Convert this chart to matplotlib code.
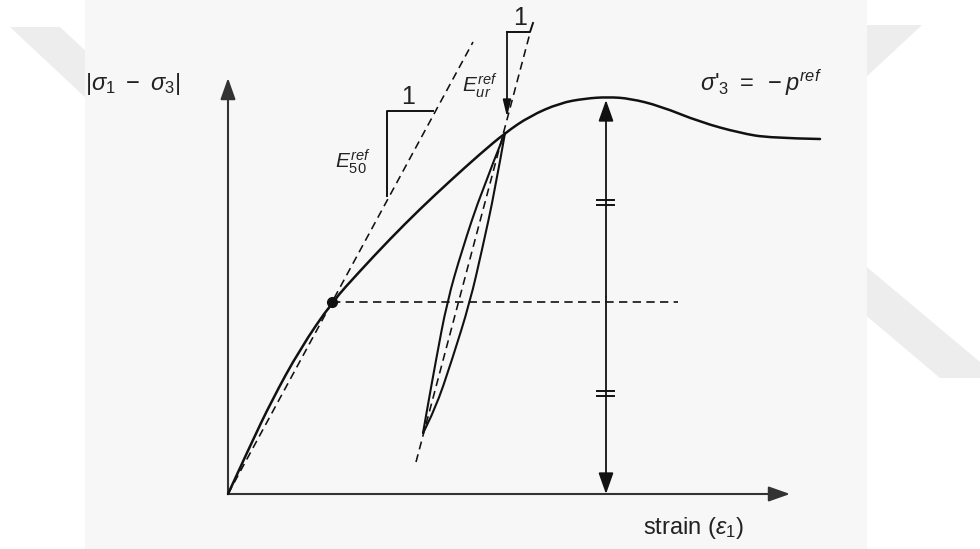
import numpy as np
import matplotlib.pyplot as plt
from matplotlib.patches import Polygon, Rectangle, PathPatch
from matplotlib.path import Path

plt.rcParams['font.family'] = ['Liberation Sans', 'DejaVu Sans']
plt.rcParams['mathtext.fontset'] = 'custom'
plt.rcParams['mathtext.rm'] = 'Liberation Sans'
plt.rcParams['mathtext.it'] = 'Liberation Sans:italic'
plt.rcParams['mathtext.bf'] = 'Liberation Sans:bold'

# primary loading curve (strain, deviatoric stress), schematic units
strain = [0, 22, 44, 72, 104, 132, 162, 192, 222, 252, 277, 302, 332, 357, 380,
          402, 432, 472, 512, 542, 592]
stress = [0, 48, 94, 145, 192, 223, 255, 285, 313, 340, 361, 378, 391, 395.5, 397,
          395.5, 388, 372, 361, 356, 355]

# unloading / reloading loop
unload_strain = [277, 254, 234, 219, 208, 199, 195]
unload_stress = [361, 304, 244, 192, 134, 84, 61]
reload_strain = [195, 207, 224, 242, 254, 267, 277]
reload_stress = [61, 84, 134, 192, 244, 304, 361]

# secant (E50) and unload-reload (Eur) stiffness lines
e50_strain = [0, 245]
e50_stress = [0, 452]
eur_strain = [188, 302]
eur_stress = [32, 461]

# point at 50% of the peak
half_strain = 104
half_stress = 192
half_end = 450

peak_strain = 378
peak_stress = 394

ink = '#111111'
axis_col = '#333333'
txt = '#222222'

fig = plt.figure(figsize=(9.8, 5.49), dpi=100)
ax = fig.add_axes([0, 0, 1, 1])
ax.set_xlim(-228, 752)
ax.set_ylim(-55, 494)
ax.axis('off')

# faint background shapes and the grey panel
wm = '#ededed'
ax.add_patch(Polygon([(-218, 467), (-168, 467), (-108, 411), (-108, 364)], color=wm, lw=0, zorder=0))
ax.add_patch(Polygon([(622, 469), (694, 469), (622, 402)], color=wm, lw=0, zorder=0))
ax.add_patch(Polygon([(622, 241), (752, 132), (752, 116), (712, 116), (622, 192)], color=wm, lw=0, zorder=0))
ax.add_patch(Rectangle((-143, -60), 782, 560, color='#f7f7f7', lw=0, zorder=1))


def smooth_line(xs, ys, lw):
    # quadratic spline through the midpoints of the given points
    pts = np.column_stack([xs, ys]).astype(float)
    verts = [pts[0]]
    codes = [Path.MOVETO]
    n = len(pts)
    for i in range(1, n - 1):
        end = pts[i + 1] if i == n - 2 else (pts[i] + pts[i + 1]) / 2
        verts += [pts[i], end]
        codes += [Path.CURVE3, Path.CURVE3]
    ax.add_patch(PathPatch(Path(verts, codes), fill=False, edgecolor=ink, lw=lw,
                           capstyle='round', joinstyle='round', zorder=4))


def arrow(tip, tail, col=axis_col, lw=1.5, hl=0.65, hw=0.23):
    ax.annotate('', xy=tip, xytext=tail,
                arrowprops=dict(arrowstyle='-|>,head_length=%g,head_width=%g' % (hl, hw),
                                mutation_scale=20, color=col, lw=lw,
                                shrinkA=0, shrinkB=0), zorder=4)


# axes
arrow((0, 416), (0, 0))
arrow((562, 0), (0, 0))

dash = (0, (5, 3.2))
ax.plot(e50_strain, e50_stress, color=ink, lw=1.15, ls=dash, zorder=3)
ax.plot(eur_strain, eur_stress, color=ink, lw=1.15, ls=dash, zorder=3)
ax.plot([half_strain, half_end], [half_stress, half_stress], color=ink, lw=1.2, ls=dash, zorder=3)

smooth_line(strain, stress, 1.8)
smooth_line(unload_strain, unload_stress, 1.5)
smooth_line(reload_strain, reload_stress, 1.5)
ax.plot(half_strain, half_stress, 'o', color=ink, ms=7, zorder=5)

# peak strength double arrow with equal-length marks
arrow((peak_strain, peak_stress), (peak_strain, peak_stress / 2), col=ink, lw=1.3)
arrow((peak_strain, 0), (peak_strain, peak_stress / 2), col=ink, lw=1.3)
for y in (peak_stress * 0.74, peak_stress * 0.255):
    ax.plot([369, 386], [y + 2.3, y + 2.3], color=ink, lw=1.4, zorder=4)
    ax.plot([369, 386], [y - 2.3, y - 2.3], color=ink, lw=1.4, zorder=4)

# slope triangles
ax.plot([159, 159, 205], [298, 383, 383], color=ink, lw=1.4, zorder=4)
ax.plot([279, 302, 305], [462, 462, 471], color=ink, lw=1.4, zorder=4)
arrow((279, 377), (279, 462), col=ink, lw=1.3, hl=0.5, hw=0.12)

ax.text(180, 397, '1', fontsize=18, color=txt, ha='center', va='center', zorder=6)
ax.text(292, 476, '1', fontsize=18, color=txt, ha='center', va='center', zorder=6)
ax.text(125, 332, r'$E_{50}^{ref}$', fontsize=15, color=txt, ha='center', va='center', zorder=6)
ax.text(252, 408, r'$E_{ur}^{ref}$', fontsize=15, color=txt, ha='center', va='center', zorder=6)

ax.text(-143, 410, r'$|\sigma_1\ -\ \sigma_3|$', fontsize=17, color=txt, ha='left', va='center', zorder=6)
ax.text(472, 411, r"$\sigma$'$_3\ =\ -p^{ref}$", fontsize=17, color=txt, ha='left', va='center', zorder=6)
ax.text(415, -34, r'strain $(\varepsilon_1)$', fontsize=17, color=txt, ha='left', va='center', zorder=6)

fig.savefig('out.png', dpi=100, facecolor='white')
